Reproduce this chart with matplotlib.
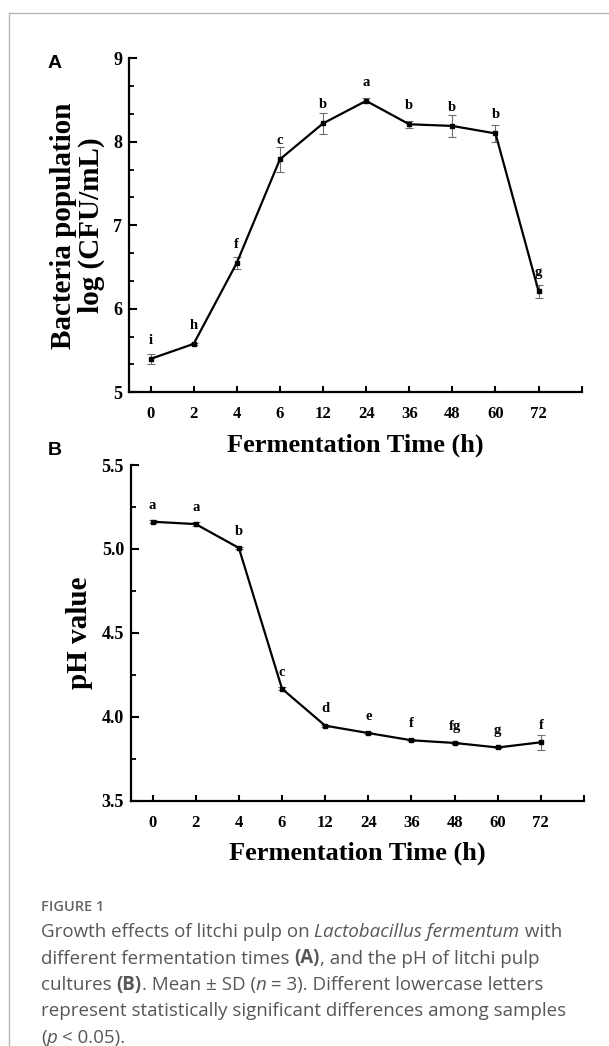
import matplotlib
matplotlib.use("Agg")
import matplotlib.pyplot as plt
from matplotlib.ticker import MultipleLocator, FixedLocator, FormatStrFormatter
from matplotlib.lines import Line2D
from matplotlib.font_manager import FontProperties

# ---------------- data ----------------
times = ['0', '2', '4', '6', '12', '24', '36', '48', '60', '72']
cfu_mean = [5.40, 5.58, 6.55, 7.79, 8.22, 8.49, 8.21, 8.19, 8.10, 6.21]
cfu_sd = [0.058, 0.015, 0.073, 0.149, 0.125, 0.030, 0.044, 0.130, 0.097, 0.079]
cfu_letters = ['i', 'h', 'f', 'c', 'b', 'a', 'b', 'b', 'b', 'g']

ph_mean = [5.162, 5.148, 5.006, 4.167, 3.947, 3.903, 3.860, 3.844, 3.817, 3.848]
ph_sd = [0.008, 0.010, 0.008, 0.008, 0.006, 0.006, 0.006, 0.006, 0.006, 0.045]
ph_letters = ['a', 'a', 'b', 'c', 'd', 'e', 'f', 'fg', 'g', 'f']

W, H = 609, 1046
fig = plt.figure(figsize=(W / 100, H / 100), dpi=100)
fig.patch.set_facecolor('white')

SERIF = 'Liberation Serif'
SANS = 'Liberation Sans'

def px(x0, y0, x1, y1):
    return [x0 / W, 1 - y1 / H, (x1 - x0) / W, (y1 - y0) / H]

axA = fig.add_axes(px(129, 58.3, 581.7, 392.3))
axB = fig.add_axes(px(131, 465, 584, 800.7))

def style(ax, ylim, major, minor, ylabel, letters, mean, sd, off):
    xs = list(range(len(times)))
    ax.errorbar(xs, mean, yerr=sd, fmt='none', ecolor='#6e6e6e',
                elinewidth=0.8, capsize=3, capthick=0.8, zorder=2)
    ax.plot(xs, mean, color='black', lw=1.6, marker='s', ms=3.2,
            mfc='black', mec='black', zorder=3)
    for x, y, t in zip(xs, mean, letters):
        ax.annotate(t, (x, y), xytext=(0, off), textcoords='offset points',
                    ha='center', va='baseline', fontsize=10.5,
                    fontweight='bold', family=SERIF)
    ax.set_xlim(-0.5, 10)
    ax.set_ylim(*ylim)
    ax.xaxis.set_major_locator(FixedLocator(list(range(11))))
    ax.set_xticklabels(times + [''])
    ax.yaxis.set_major_locator(MultipleLocator(major))
    ax.yaxis.set_minor_locator(MultipleLocator(minor))
    for s in ('top', 'right'):
        ax.spines[s].set_visible(False)
    for s in ('left', 'bottom'):
        ax.spines[s].set_linewidth(1.6)
    ax.tick_params(axis='x', which='major', direction='in', length=4,
                   width=1.5, pad=10, labelsize=12)
    ax.tick_params(axis='y', which='major', direction='in', length=5.5,
                   width=1.5, pad=5, labelsize=13)
    ax.tick_params(axis='y', which='minor', direction='in', length=3.5,
                   width=1.3)
    ax.set_xlabel('Fermentation Time (h)', fontsize=19, fontweight='bold',
                  family=SERIF, labelpad=8)
    ax.set_ylabel(ylabel, fontsize=21, fontweight='bold', family=SERIF,
                  linespacing=1.0, labelpad=6)
    ax.set_facecolor('white')

style(axA, (5, 9), 1, 1 / 3, 'Bacteria population\nlog (CFU/mL)',
      cfu_letters, cfu_mean, cfu_sd, 10.8)
axA.yaxis.set_major_formatter(FormatStrFormatter('%d'))
style(axB, (3.5, 5.5), 0.5, 0.25, 'pH value',
      ph_letters, ph_mean, ph_sd, 9.5)
axB.yaxis.set_major_formatter(FormatStrFormatter('%.1f'))
for ax in (axA, axB):
    for lab in ax.get_xticklabels() + ax.get_yticklabels():
        lab.set_fontfamily(SERIF)
        lab.set_fontweight('bold')

fig.text(48 / W, 1 - 68 / H, 'A', fontsize=14, fontweight='bold',
         family=SANS, va='baseline', ha='left')
fig.text(48 / W, 1 - 455 / H, 'B', fontsize=14, fontweight='bold',
         family=SANS, va='baseline', ha='left')

# frame lines
fig.add_artist(Line2D([9 / W, 1], [1 - 12.5 / H, 1 - 12.5 / H],
                      color='#b5b5b5', lw=1.0, transform=fig.transFigure))
fig.add_artist(Line2D([9 / W, 9 / W], [0, 1 - 12.5 / H],
                      color='#b5b5b5', lw=1.0, transform=fig.transFigure))

# ---------------- caption ----------------
CAP = 'Open Sans'
cap_color = '#575757'
fig.text(41 / W, 1 - 911 / H, 'FIGURE 1', fontsize=10.5, fontweight='semibold',
         family=CAP, color='#666666', va='baseline')

lines = [
    [('Growth effects of litchi pulp on ', 'normal', 'normal'),
     ('Lactobacillus fermentum', 'italic', 'normal'),
     (' with', 'normal', 'normal')],
    [('different fermentation times ', 'normal', 'normal'),
     ('(A)', 'normal', 'bold'),
     (', and the pH of litchi pulp', 'normal', 'normal')],
    [('cultures ', 'normal', 'normal'),
     ('(B)', 'normal', 'bold'),
     ('. Mean \u00b1 SD (', 'normal', 'normal'),
     ('n', 'italic', 'normal'),
     (' = 3). Different lowercase letters', 'normal', 'normal')],
    [('represent statistically significant differences among samples',
      'normal', 'normal')],
    [('(', 'normal', 'normal'), ('p', 'italic', 'normal'),
     (' < 0.05).', 'normal', 'normal')],
]
fig.canvas.draw()
renderer = fig.canvas.get_renderer()
cap_size = 13.5

def seg_width(s, fp):
    w1, _, _ = renderer.get_text_width_height_descent('|' + s + '|', fp, ismath=False)
    w0, _, _ = renderer.get_text_width_height_descent('||', fp, ismath=False)
    return w1 - w0

y0 = 937
dy = 26.5
for i, segs in enumerate(lines):
    x = 41.0
    y = y0 + i * dy
    for s, st, wt in segs:
        fp = FontProperties(family=CAP, style=st, weight=wt, size=cap_size)
        fig.text(x / W, 1 - y / H, s, fontproperties=fp, color=cap_color,
                 va='baseline', ha='left')
        x += seg_width(s, fp)

fig.savefig('out.png', dpi=100, facecolor='white')
